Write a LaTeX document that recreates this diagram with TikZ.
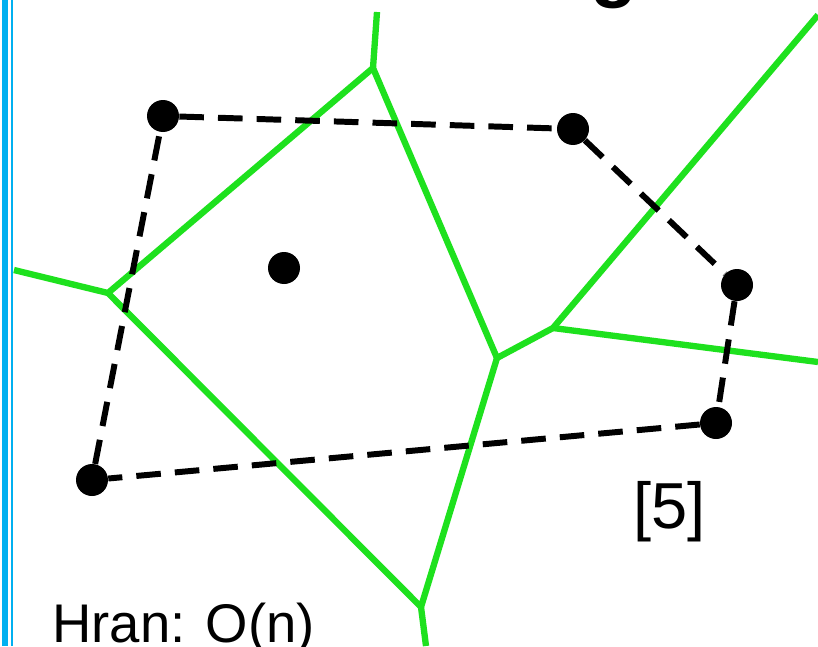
\documentclass[tikz,border=0pt]{standalone}
\usepackage{fontspec}
\setmainfont{Liberation Sans}
\definecolor{vgreen}{RGB}{30,225,30}
\definecolor{barblue}{RGB}{0,176,240}

\begin{document}
\begin{tikzpicture}[x=0.02cm, y=-0.02cm,
		site/.style={circle, fill=black, inner sep=0pt, minimum size=0.64cm},
		cell/.style={draw=vgreen, line width=3.6pt, line join=round},
		hull/.style={draw=black, line width=3.4pt, dash pattern=on 14pt off 8pt}]
		\useasboundingbox (0, 0) rectangle (818, 646);
		\fill [white] (0, 0) rectangle (818, 646);

		% blue rules at the left margin
		\fill [barblue] (2, 0) rectangle (8, 646);
		\fill [barblue] (11, 0) rectangle (13, 646);

		% tail of the cut-off heading
		\node [anchor=base west, inner sep=0pt, font=\bfseries\fontsize{44}{44}\selectfont] (head) at (590, -8) {g};

		% Voronoi vertices and the points where edges leave the frame
		\coordinate (vtop) at (377, 12);
		\coordinate (va) at (373, 68);
		\coordinate (vb) at (108, 293);
		\coordinate (vleft) at (14, 270);
		\coordinate (vc) at (497, 358);
		\coordinate (vd) at (553, 328);
		\coordinate (vne) at (818, 15);
		\coordinate (ve) at (818, 362);
		\coordinate (vf) at (421, 607);
		\coordinate (vbot) at (426, 646);

		% Voronoi edges
		\draw [cell] (vtop) -- (va) -- (vb) -- (vleft);
		\draw [cell] (va) -- (vc) -- (vd) -- (vne);
		\draw [cell] (vd) -- (ve);
		\draw [cell] (vb) -- (vf) -- (vc);
		\draw [cell] (vf) -- (vbot);

		% sites
		\node [site] (p1) at (163, 116) {};
		\node [site] (p2) at (573, 129) {};
		\node [site] (p3) at (737, 285) {};
		\node [site] (p4) at (716, 423) {};
		\node [site] (p5) at (92, 480) {};
		\node [site] (p6) at (284, 268) {};

		% convex hull
		\draw [hull] (p1) -- (p2) -- (p3) -- (p4) -- (p5) -- (p1);

		\node [anchor=base west, inner sep=0pt, font=\fontsize{37}{37}\selectfont] (cite) at (633, 528) {[5]};
		\node [anchor=base west, inner sep=0pt, font=\fontsize{31}{31}\selectfont] (cost) at (52, 642) {Hran: O(n)};
	\end{tikzpicture}
\end{document}
